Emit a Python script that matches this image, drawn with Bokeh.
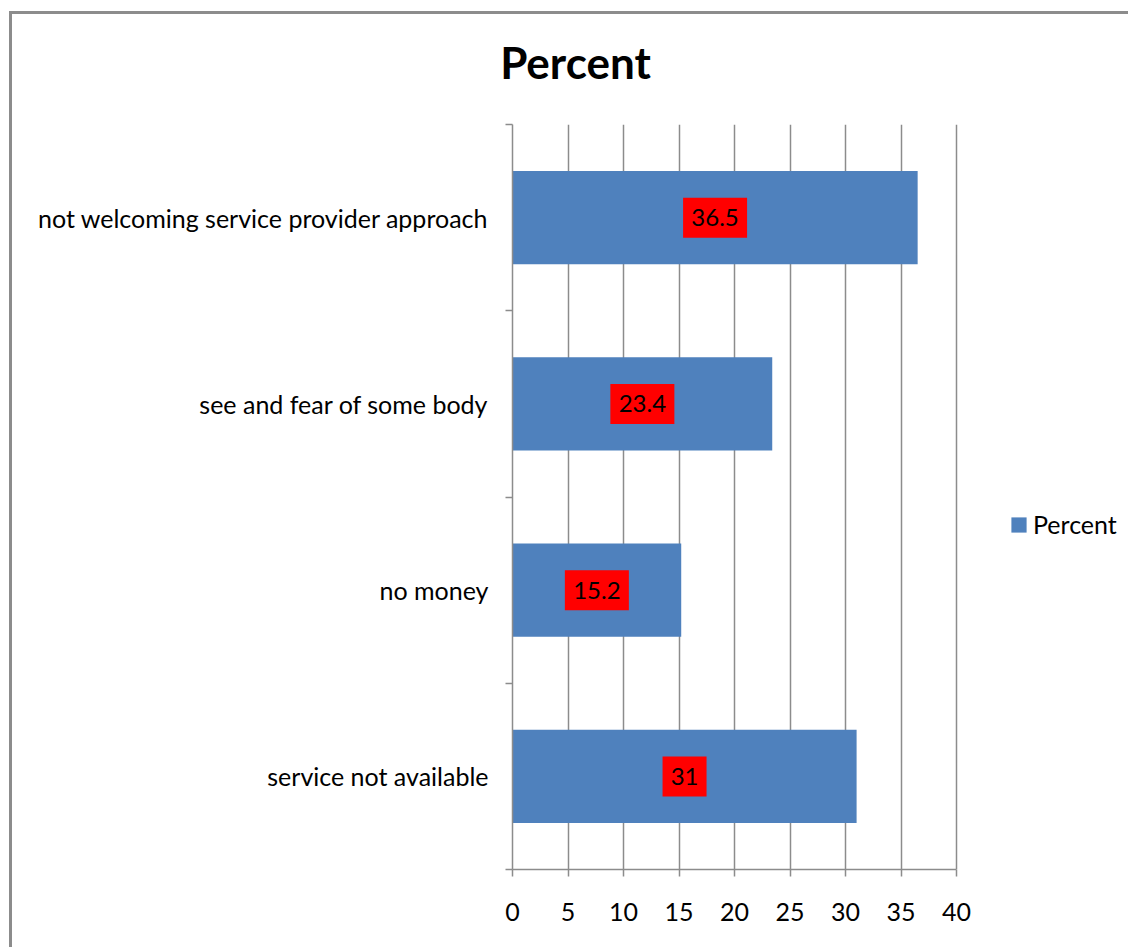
from bokeh.plotting import figure
from bokeh.models import (ColumnDataSource, Range1d, FixedTicker, LabelSet, Label,
                          Legend, LegendItem)
from bokeh.core.properties import value
from bokeh.embed import file_html
from bokeh.resources import INLINE

# ---- data (bottom to top, as drawn) ----
categories = ["service not available", "no money", "see and fear of some body",
              "not welcoming service provider approach"]
percent = [31, 15.2, 23.4, 36.5]
x_ticks = [0, 5, 10, 15, 20, 25, 30, 35, 40]
x_max = 40
series_name = "Percent"
title_text = "Percent"

FONT = "Lato"
BAR = "#4f81bd"
GRID = "#8c8c8c"

# canvas origin is shifted by the CSS border/margin
OX, OY = 12, 14
W, H = 1131 - OX, 950 - OY
LEFT, TOP, BOTTOM = 512 - OX, 124 - OY, 81
AXIS_PX = 444  # pixel length of the 0..x_max axis
frame_w = W - LEFT
x_end = x_max * frame_w / AXIS_PX  # frame extends right to hold the legend

pos = [i + 0.5 for i in range(len(categories))]
labs = [("%g" % v) for v in percent]
src = ColumnDataSource(dict(
    y=pos, v=percent, mid=[v / 2 for v in percent], lab=labs,
    bw=[10 * len(s) + 24 for s in labs]))

p = figure(width=W, height=H, output_backend="svg", toolbar_location=None,
           x_range=Range1d(0, x_end), y_range=Range1d(0, len(categories)),
           min_border_left=LEFT, min_border_right=0, min_border_top=TOP,
           min_border_bottom=BOTTOM)
p.margin = (11, 0, 0, 9)
p.styles = {"border-left": "3px solid #8c8c8c", "border-top": "3px solid #8c8c8c"}
p.outline_line_color = None
p.background_fill_color = "white"
p.border_fill_color = "white"

p.title.text = ""
p.add_layout(Label(x=572 - OX, y=58 - OY, x_units="canvas", y_units="canvas",
                   text=title_text, text_align="center", text_baseline="middle",
                   text_font=FONT, text_font_size="44px", text_font_style="bold",
                   text_color="black"), "above")

r = p.hbar(y="y", right="v", left=0, height=0.5, source=src,
           fill_color=BAR, line_color=None)

# x axis
xa = p.xaxis[0]
xa.bounds = (0, x_max)
xa.ticker = FixedTicker(ticks=x_ticks, minor_ticks=[])
xa.axis_line_color = GRID
xa.axis_line_width = 1.5
xa.major_tick_line_color = GRID
xa.major_tick_line_width = 1.5
xa.major_tick_in = 0
xa.major_tick_out = 7
xa.major_label_standoff = 26
xa.major_label_text_font = FONT
xa.major_label_text_font_size = "25px"
xa.major_label_text_color = "black"

# y axis: labels at centers, ticks at boundaries (minor)
ya = p.yaxis[0]
ya.ticker = FixedTicker(ticks=pos, minor_ticks=list(range(len(categories) + 1)))
ya.major_label_overrides = {pv: c for pv, c in zip(pos, categories)}
ya.axis_line_color = GRID
ya.axis_line_width = 1.5
ya.major_tick_line_color = None
ya.major_tick_in = 0
ya.major_tick_out = 0
ya.minor_tick_line_color = GRID
ya.minor_tick_line_width = 1.5
ya.minor_tick_in = 0
ya.minor_tick_out = 7
ya.major_label_standoff = 17
ya.major_label_text_font = FONT
ya.major_label_text_font_size = "25px"
ya.major_label_text_color = "black"

p.xgrid.ticker = FixedTicker(ticks=x_ticks)
p.xgrid.grid_line_color = GRID
p.xgrid.grid_line_width = 1.5
p.ygrid.grid_line_color = None

p.rect(x="mid", y="y", width="bw", height=40, width_units="screen",
       height_units="screen", source=src, fill_color="red", line_color=None)
labels = LabelSet(x="mid", y="y", text="lab", source=src,
                  text_align="center", text_baseline="middle",
                  text_font=value(FONT), text_font_size="24px", text_color="black")
p.add_layout(labels)

legend = Legend(items=[LegendItem(label=series_name, renderers=[r])],
                location=(497, 330), padding=0, margin=0, border_line_color=None,
                background_fill_alpha=0, glyph_width=19, glyph_height=19,
                label_standoff=5, label_text_font=FONT, label_text_font_size="25px",
                label_text_color="black")
p.add_layout(legend, "center")

open("out.html", "w").write(file_html(p, INLINE))
